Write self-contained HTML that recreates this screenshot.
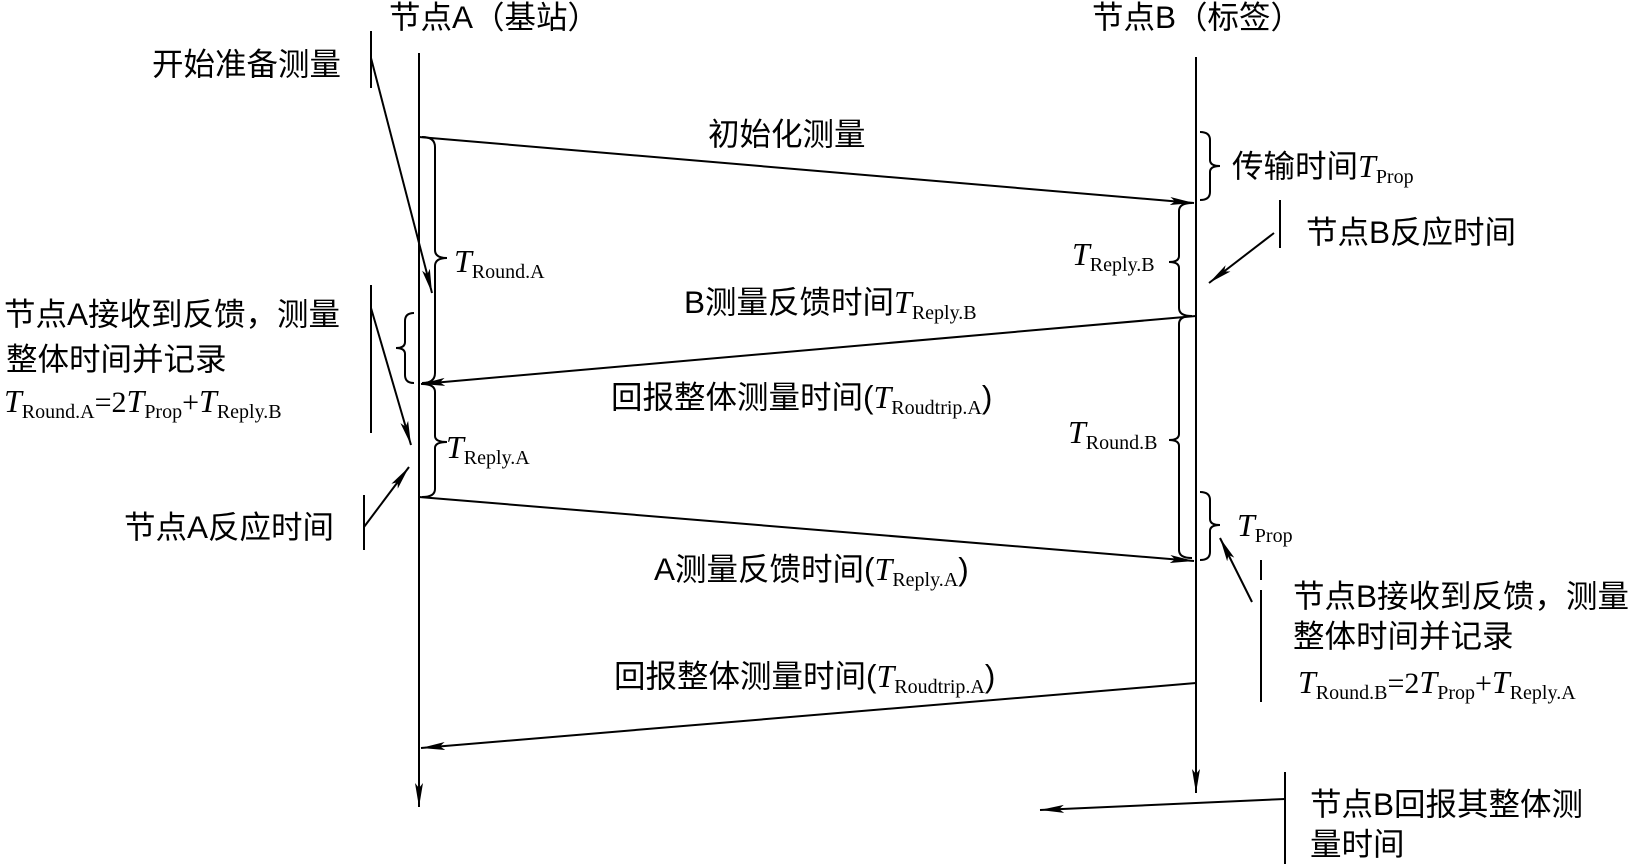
<!DOCTYPE html>
<html><head><meta charset="utf-8"><style>
html,body{margin:0;padding:0;background:#fff;}
svg{display:block;}
text{font-family:"Liberation Sans","Noto Sans CJK SC",sans-serif;fill:#000;}
.c{font-size:31.5px;}
.t{font-family:"Liberation Serif",serif;font-style:italic;font-size:32px;}
.s{font-family:"Liberation Serif",serif;font-size:20px;}
.n{font-family:"Liberation Serif",serif;font-size:30px;}
</style></head><body>
<svg width="1631" height="864" viewBox="0 0 1631 864" xmlns="http://www.w3.org/2000/svg">
<defs>
<marker id="ah" markerWidth="26" markerHeight="10" refX="24" refY="5" orient="auto" markerUnits="userSpaceOnUse">
<path d="M0,1 L24,5 L0,9 L5,5 Z" fill="#000"/>
</marker>
</defs>
<g stroke="#000" stroke-width="2" fill="none">
<line x1="419" y1="53" x2="419" y2="807" marker-end="url(#ah)"/>
<line x1="1196" y1="57" x2="1196" y2="793" marker-end="url(#ah)"/>
<line x1="419" y1="137" x2="1194" y2="203" marker-end="url(#ah)"/>
<line x1="1196" y1="316" x2="421" y2="384" marker-end="url(#ah)"/>
<line x1="419" y1="497" x2="1194" y2="561" marker-end="url(#ah)"/>
<line x1="1196" y1="683" x2="421" y2="748" marker-end="url(#ah)"/>
<path d="M422,137 Q435,137 435,147 L435,250 Q435,258 447,258 Q435,258 435,266 L435,373 Q435,383 422,383"/>
<path d="M422,384 Q435,384 435,392 L435,436 Q435,442 447,442 Q435,442 435,448 L435,489 Q435,497 422,497"/>
<path d="M414,313 Q405,313 405,321 L405,342 Q405,348 396,348 Q405,348 405,354 L405,375 Q405,383 414,383"/>
<path d="M1200,132 Q1210,132 1210,140 L1210,160 Q1210,166 1220,166 Q1210,166 1210,172 L1210,192 Q1210,200 1200,200"/>
<path d="M1192,203 Q1179,203 1179,211 L1179,256 Q1179,262 1169,262 Q1179,262 1179,268 L1179,308 Q1179,316 1192,316"/>
<path d="M1192,316 Q1179,316 1179,324 L1179,434 Q1179,440 1169,440 Q1179,440 1179,446 L1179,550 Q1179,558 1192,558"/>
<path d="M1200,492 Q1210,492 1210,500 L1210,519 Q1210,525 1220,525 Q1210,525 1210,531 L1210,552 Q1210,560 1200,560"/>
<line x1="371" y1="31" x2="371" y2="88"/>
<line x1="371" y1="285" x2="371" y2="433"/>
<line x1="364" y1="495" x2="364" y2="550"/>
<line x1="1280" y1="200" x2="1280" y2="248"/>
<line x1="1261" y1="560" x2="1261" y2="580"/>
<line x1="1261" y1="590" x2="1261" y2="702"/>
<line x1="1285" y1="772" x2="1285" y2="864"/>
<line x1="371" y1="58" x2="432" y2="293" marker-end="url(#ah)"/>
<line x1="371" y1="308" x2="411" y2="445" marker-end="url(#ah)"/>
<line x1="364" y1="527" x2="409" y2="467" marker-end="url(#ah)"/>
<line x1="1274" y1="233" x2="1209" y2="283" marker-end="url(#ah)"/>
<line x1="1252" y1="602" x2="1220" y2="538" marker-end="url(#ah)"/>
<line x1="1285" y1="799" x2="1040" y2="810" marker-end="url(#ah)"/>
</g>
<text class="c" x="389" y="28">节点A（基站）</text>
<text class="c" x="1092" y="28">节点B（标签）</text>
<text class="c" x="152" y="75">开始准备测量</text>
<text class="c" x="4" y="325">节点A接收到反馈，测量</text>
<text class="c" x="6" y="370">整体时间并记录</text>
<text x="4" y="412"><tspan class="t">T</tspan><tspan class="s" dy="6">Round.A</tspan><tspan class="n" dy="-6">=2</tspan><tspan class="t">T</tspan><tspan class="s" dy="6">Prop</tspan><tspan class="n" dy="-6">+</tspan><tspan class="t">T</tspan><tspan class="s" dy="6">Reply.B</tspan></text>
<text class="c" x="124" y="538">节点A反应时间</text>
<text x="454" y="272"><tspan class="t">T</tspan><tspan class="s" dy="6">Round.A</tspan></text>
<text x="446" y="458"><tspan class="t">T</tspan><tspan class="s" dy="6">Reply.A</tspan></text>
<text class="c" x="708" y="145">初始化测量</text>
<text x="684" y="313"><tspan class="c">B测量反馈时间</tspan><tspan class="t">T</tspan><tspan class="s" dy="6">Reply.B</tspan></text>
<text x="611" y="408"><tspan class="c">回报整体测量时间(</tspan><tspan class="t">T</tspan><tspan class="s" dy="6">Roudtrip.A</tspan><tspan class="c" dy="-6">)</tspan></text>
<text x="654" y="580"><tspan class="c">A测量反馈时间(</tspan><tspan class="t">T</tspan><tspan class="s" dy="6">Reply.A</tspan><tspan class="c" dy="-6">)</tspan></text>
<text x="614" y="687"><tspan class="c">回报整体测量时间(</tspan><tspan class="t">T</tspan><tspan class="s" dy="6">Roudtrip.A</tspan><tspan class="c" dy="-6">)</tspan></text>
<text x="1232" y="177"><tspan class="c">传输时间</tspan><tspan class="t">T</tspan><tspan class="s" dy="6">Prop</tspan></text>
<text x="1072" y="265"><tspan class="t">T</tspan><tspan class="s" dy="6">Reply.B</tspan></text>
<text x="1068" y="443"><tspan class="t">T</tspan><tspan class="s" dy="6">Round.B</tspan></text>
<text x="1237" y="536"><tspan class="t">T</tspan><tspan class="s" dy="6">Prop</tspan></text>
<text class="c" x="1306" y="243">节点B反应时间</text>
<text class="c" x="1293" y="607">节点B接收到反馈，测量</text>
<text class="c" x="1293" y="647">整体时间并记录</text>
<text x="1298" y="693"><tspan class="t">T</tspan><tspan class="s" dy="6">Round.B</tspan><tspan class="n" dy="-6">=2</tspan><tspan class="t">T</tspan><tspan class="s" dy="6">Prop</tspan><tspan class="n" dy="-6">+</tspan><tspan class="t">T</tspan><tspan class="s" dy="6">Reply.A</tspan></text>
<text class="c" x="1310" y="815">节点B回报其整体测</text>
<text class="c" x="1310" y="855">量时间</text>
</svg>
</body></html>
